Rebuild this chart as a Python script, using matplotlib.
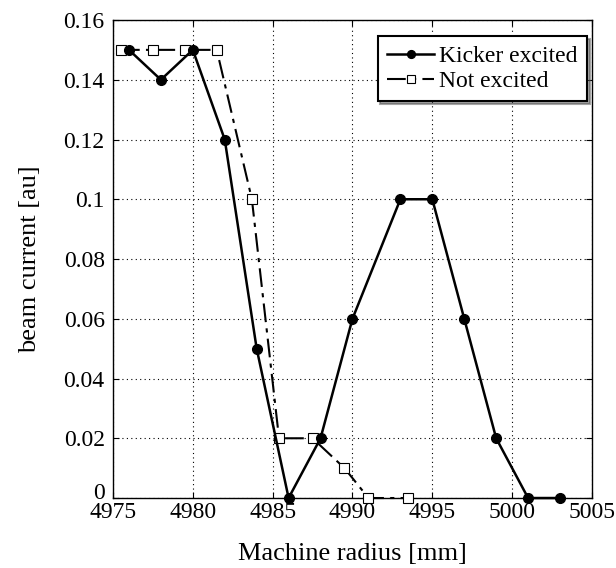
import numpy as np
from matplotlib import pyplot as plt
from matplotlib.ticker import FormatStrFormatter
from matplotlib.transforms import ScaledTranslation

plt.rcParams['font.family'] = ['Liberation Serif', 'DejaVu Serif']

# Kicker excited
kick_r = [4976, 4978, 4980, 4982, 4984, 4986, 4988, 4990, 4993, 4995, 4997, 4999, 5001, 5003]
kick_i = [0.15, 0.14, 0.15, 0.12, 0.05, 0.0, 0.02, 0.06, 0.10, 0.10, 0.06, 0.02, 0.0, 0.0]

# Not excited
not_r = [4975.5, 4977.5, 4979.5, 4981.5, 4983.7, 4985.4, 4987.5, 4989.5, 4991, 4993.5]
not_i = [0.15, 0.15, 0.15, 0.15, 0.10, 0.02, 0.02, 0.01, 0.0, 0.0]

fig = plt.figure(figsize=(6.16, 5.68), dpi=100)
ax = fig.add_axes([0.1834, 0.1232, 0.7776, 0.8416])

ax.plot(kick_r, kick_i, '-', color='black', lw=1.8, marker='o', ms=7,
        label='Kicker excited', clip_on=False, zorder=4)
ax.plot(not_r, not_i, linestyle=(0, (9, 3, 2, 3)), color='black', lw=1.5,
        marker='s', ms=6.5, mfc='white', mec='black', mew=0.8,
        label='Not excited', clip_on=False, zorder=3)

ax.set_xlim(4975, 5005)
ax.set_ylim(0, 0.16)
ax.set_xticks(np.arange(4975, 5006, 5))
ax.set_yticks(np.arange(0, 0.161, 0.02))
ax.yaxis.set_major_formatter(FormatStrFormatter('%g'))
ax.tick_params(direction='in', labelsize=17, length=4, top=True, right=True)
ax.tick_params(axis='x', pad=3)
ax.tick_params(axis='y', pad=6)
ax.grid(True, linestyle=(0, (1, 3)), color='black', lw=0.8)
for s in ax.spines.values():
    s.set_linewidth(1.0)

# lift the "0" label a little so it sits clear of the x tick labels
fig.canvas.draw()
zero_lbl = ax.get_yticklabels()[0]
zero_lbl.set_transform(zero_lbl.get_transform() + ScaledTranslation(0, 5 / 72, fig.dpi_scale_trans))

ax.set_xlabel('Machine radius [mm]', fontsize=19, labelpad=14)
ax.set_ylabel('beam current [au]', fontsize=19, labelpad=16)

leg = ax.legend(loc='upper right', fontsize=17, fancybox=False, shadow=True,
                edgecolor='black', framealpha=1, handlelength=2.0,
                borderpad=0.4, labelspacing=0.15, handletextpad=0.2,
                borderaxespad=0, markerscale=0.8,
                bbox_to_anchor=(0.9896, 0.9665))
leg.get_frame().set_linewidth(1.5)

fig.savefig('out.png', dpi=100)
